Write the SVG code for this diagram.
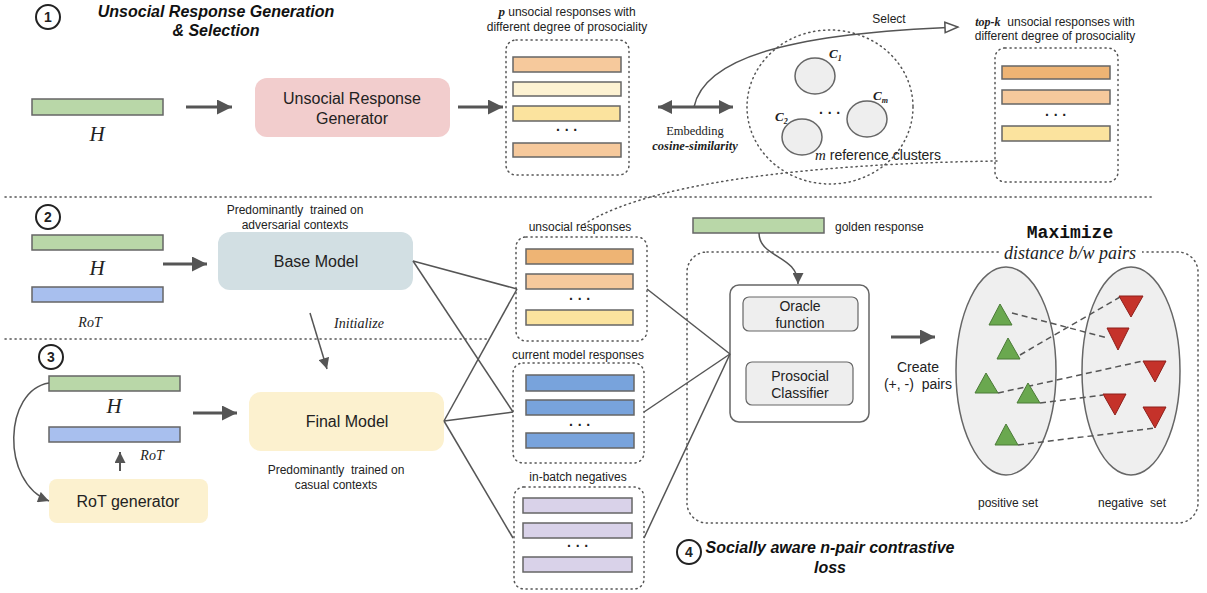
<svg xmlns="http://www.w3.org/2000/svg" width="1207" height="593" viewBox="0 0 1207 593">
<style>
.sans{font-family:"Liberation Sans",Arial,sans-serif;fill:#222}
.serif{font-family:"Liberation Serif","Times New Roman",serif;fill:#222}
.ti{font-family:"Liberation Sans",Arial,sans-serif;font-weight:bold;font-style:italic;font-size:16px;fill:#111}
.pre{white-space:pre}
.bar{stroke:#666;stroke-width:1.5}
.dot{fill:none;stroke:#555;stroke-width:1.5;stroke-dasharray:1.2 3.8;stroke-linecap:round}
.ln{fill:none;stroke:#555;stroke-width:1.5}
.thick{fill:none;stroke:#555;stroke-width:3}
.num{fill:none;stroke:#222;stroke-width:2}
.dash{fill:none;stroke:#555;stroke-width:1.5;stroke-dasharray:6 4}
.gt{fill:#6aa84f;stroke:#4b7a37;stroke-width:1}
.rt{fill:#c5322a;stroke:#8e1f1a;stroke-width:1}
</style>
<defs>
<marker id="big" viewBox="0 0 10 10" refX="10" refY="5" markerUnits="userSpaceOnUse" markerWidth="20" markerHeight="15" orient="auto"><path d="M0,0 L10,5 L0,10 z" fill="#555"/></marker>
<marker id="bigs" viewBox="0 0 10 10" refX="10" refY="5" markerUnits="userSpaceOnUse" markerWidth="18" markerHeight="14" orient="auto-start-reverse"><path d="M0,0 L10,5 L0,10 z" fill="#555"/></marker>
<marker id="sm" viewBox="0 0 10 10" refX="10" refY="5" markerUnits="userSpaceOnUse" markerWidth="12" markerHeight="11" orient="auto"><path d="M0,0 L10,5 L0,10 z" fill="#555"/></marker>
<marker id="open" viewBox="0 0 12 10" refX="11" refY="5" markerUnits="userSpaceOnUse" markerWidth="16" markerHeight="13" orient="auto"><path d="M1,1 L11,5 L1,9 z" fill="#fff" stroke="#555" stroke-width="1.2"/></marker>
</defs>

<!-- separators -->
<g id="separators">
<line class="dot" x1="5" y1="197" x2="1152" y2="197"/>
<line class="dot" x1="5" y1="339" x2="490" y2="339"/>
</g>

<!-- Section 1 -->
<g id="step1-title">
<circle class="num" cx="48" cy="17" r="12"/>
<text x="48" y="22" text-anchor="middle" class="sans" font-size="14" font-weight="bold">1</text>
<text x="216" y="17" text-anchor="middle" class="ti">Unsocial Response Generation</text>
<text x="216" y="36" text-anchor="middle" class="ti">&amp; Selection</text>
</g>
<g id="h1">
<rect class="bar" x="32" y="99" width="131" height="16" fill="#b9d7a8"/>
<text x="97" y="141" text-anchor="middle" class="serif" font-size="21" font-style="italic">H</text>
</g>
<g id="generator">
<rect x="255" y="78" width="195" height="59" rx="12" fill="#f2cdcd"/>
<text x="352" y="104" text-anchor="middle" class="sans" font-size="16">Unsocial Response</text>
<text x="352" y="124" text-anchor="middle" class="sans" font-size="16">Generator</text>
</g>
<g id="p-responses">
<text x="567" y="16" text-anchor="middle" class="sans" font-size="12"><tspan class="serif" font-weight="bold" font-style="italic" font-size="13">p</tspan> unsocial responses with</text>
<text x="567" y="31" text-anchor="middle" class="sans" font-size="12">different degree of prosociality</text>
<rect class="dot" x="506" y="40" width="123" height="135" rx="10"/>
<rect class="bar" x="513" y="57" width="108" height="15" fill="#f6c99c"/>
<rect class="bar" x="513" y="82" width="108" height="14" fill="#fdf2d2"/>
<rect class="bar" x="513" y="106" width="107" height="15" fill="#fbe39e"/>
<text x="567" y="135" text-anchor="middle" class="sans" font-size="14" font-weight="bold">· · ·</text>
<rect class="bar" x="513" y="143" width="108" height="14" fill="#f6c99c"/>
</g>
<g id="clusters">
<ellipse class="dot" cx="830" cy="107" rx="83" ry="77"/>
<ellipse cx="815" cy="76" rx="20" ry="18" fill="#eeeeee" stroke="#666" stroke-width="1.5"/>
<ellipse cx="867" cy="119" rx="20" ry="18" fill="#eeeeee" stroke="#666" stroke-width="1.5"/>
<ellipse cx="802" cy="137" rx="20" ry="18" fill="#eeeeee" stroke="#666" stroke-width="1.5"/>
<text x="830" y="118" text-anchor="middle" class="sans" font-size="14" font-weight="bold">· · ·</text>
<text x="829" y="58" class="serif" font-size="13" font-weight="bold" font-style="italic">C<tspan font-size="8" dy="3">1</tspan></text>
<text x="873" y="100" class="serif" font-size="13" font-weight="bold" font-style="italic">C<tspan font-size="8" dy="3">m</tspan></text>
<text x="775" y="121" class="serif" font-size="13" font-weight="bold" font-style="italic">C<tspan font-size="8" dy="3">2</tspan></text>
<text x="815" y="160" class="sans" font-size="14"><tspan class="serif" font-style="italic" font-size="15">m</tspan> reference clusters</text>
</g>
<g id="embedding-label">
<text x="695" y="135" text-anchor="middle" class="serif" font-size="12.5">Embedding</text>
<text x="695" y="150" text-anchor="middle" class="serif" font-size="12.5" font-weight="bold" font-style="italic">cosine-similarity</text>
<text x="889" y="23" text-anchor="middle" class="sans" font-size="12">Select</text>
</g>
<g id="topk-responses">
<text x="1055" y="26" text-anchor="middle" class="sans pre" font-size="12"><tspan class="serif" font-weight="bold" font-style="italic">top-k</tspan>  unsocial responses with</text>
<text x="1055" y="40" text-anchor="middle" class="sans" font-size="12">different degree of prosociality</text>
<rect class="dot" x="995" y="48" width="123" height="134" rx="10"/>
<rect class="bar" x="1002" y="66" width="108" height="13" fill="#eeb474"/>
<rect class="bar" x="1002" y="90" width="108" height="14" fill="#f6c99c"/>
<text x="1056" y="120" text-anchor="middle" class="sans" font-size="14" font-weight="bold">· · ·</text>
<rect class="bar" x="1002" y="126" width="108" height="15" fill="#fbe39e"/>
</g>

<!-- Section 2 -->
<g id="step2">
<circle class="num" cx="48" cy="217" r="12"/>
<text x="48" y="222" text-anchor="middle" class="sans" font-size="14" font-weight="bold">2</text>
<rect class="bar" x="32" y="235" width="131" height="15" fill="#b9d7a8"/>
<text x="97" y="275" text-anchor="middle" class="serif" font-size="21" font-style="italic">H</text>
<rect class="bar" x="32" y="287" width="131" height="15" fill="#a8bfee"/>
<text x="90" y="327" text-anchor="middle" class="serif" font-size="14" font-style="italic">RoT</text>
</g>
<g id="base-model">
<text x="295" y="214" text-anchor="middle" class="sans pre" font-size="12">Predominantly  trained on</text>
<text x="295" y="229" text-anchor="middle" class="sans" font-size="12">adversarial contexts</text>
<rect x="218" y="232" width="195" height="58" rx="12" fill="#d2dfe3"/>
<text x="316" y="267" text-anchor="middle" class="sans" font-size="16">Base Model</text>
</g>
<text x="359" y="328" text-anchor="middle" class="serif" font-size="14" font-style="italic">Initialize</text>

<!-- Section 3 -->
<g id="step3">
<circle class="num" cx="51" cy="357" r="12"/>
<text x="51" y="362" text-anchor="middle" class="sans" font-size="14" font-weight="bold">3</text>
<rect class="bar" x="49" y="376" width="131" height="15" fill="#b9d7a8"/>
<text x="114" y="413" text-anchor="middle" class="serif" font-size="21" font-style="italic">H</text>
<rect class="bar" x="49" y="427" width="131" height="15" fill="#a8bfee"/>
<text x="152" y="460" text-anchor="middle" class="serif" font-size="14" font-style="italic">RoT</text>
</g>
<g id="rot-generator">
<rect x="49" y="479" width="159" height="44" rx="8" fill="#fcf1cf"/>
<text x="128" y="507" text-anchor="middle" class="sans" font-size="16">RoT generator</text>
</g>
<g id="final-model">
<rect x="249" y="392" width="195" height="59" rx="12" fill="#fcf1cf"/>
<text x="347" y="427" text-anchor="middle" class="sans" font-size="16">Final Model</text>
<text x="336" y="474" text-anchor="middle" class="sans pre" font-size="12">Predominantly  trained on</text>
<text x="336" y="489" text-anchor="middle" class="sans" font-size="12">casual contexts</text>
</g>

<!-- response sets -->
<g id="unsocial-set">
<text x="580" y="231" text-anchor="middle" class="sans" font-size="12">unsocial responses</text>
<rect class="dot" x="516" y="237" width="131" height="104" rx="10"/>
<rect class="bar" x="526" y="249" width="107" height="15" fill="#eeb474"/>
<rect class="bar" x="526" y="274" width="107" height="15" fill="#f6c99c"/>
<text x="580" y="304" text-anchor="middle" class="sans" font-size="14" font-weight="bold">· · ·</text>
<rect class="bar" x="526" y="310" width="107" height="15" fill="#fbe39e"/>
</g>
<g id="current-set">
<text x="578" y="359" text-anchor="middle" class="sans" font-size="12">current model responses</text>
<rect class="dot" x="513" y="363" width="131" height="100" rx="10"/>
<rect class="bar" x="526" y="375" width="108" height="16" fill="#78a3dc"/>
<rect class="bar" x="526" y="400" width="108" height="15" fill="#78a3dc"/>
<text x="580" y="430" text-anchor="middle" class="sans" font-size="14" font-weight="bold">· · ·</text>
<rect class="bar" x="526" y="433" width="108" height="15" fill="#78a3dc"/>
</g>
<g id="inbatch-set">
<text x="578" y="481" text-anchor="middle" class="sans" font-size="12">in-batch negatives</text>
<rect class="dot" x="514" y="487" width="130" height="102" rx="10"/>
<rect class="bar" x="523" y="498" width="109" height="15" fill="#d9d2e9"/>
<rect class="bar" x="523" y="523" width="109" height="15" fill="#d9d2e9"/>
<text x="578" y="551" text-anchor="middle" class="sans" font-size="14" font-weight="bold">· · ·</text>
<rect class="bar" x="523" y="557" width="109" height="15" fill="#d9d2e9"/>
</g>

<!-- Section 4 -->
<g id="golden">
<rect class="bar" x="693" y="218" width="131" height="15" fill="#b9d7a8"/>
<text x="835" y="231" class="sans" font-size="12">golden response</text>
</g>
<g id="loss-box">
<rect class="dot" x="687" y="252" width="511" height="271" rx="20"/>
<rect x="1000" y="244" width="142" height="20" fill="#fff"/>
<text x="1070" y="238" text-anchor="middle" font-family="'Liberation Mono','Courier New',monospace" font-weight="bold" font-size="18" fill="#111">Maximize</text>
<text x="1070" y="259" text-anchor="middle" class="serif" font-size="18" font-style="italic">distance b/w pairs</text>
</g>
<g id="oracle-group">
<rect x="730" y="285" width="139" height="137" rx="9" fill="#fff" stroke="#666" stroke-width="1.5"/>
<rect x="743" y="297" width="115" height="34" rx="6" fill="#eeeeee" stroke="#666" stroke-width="1.2"/>
<text x="800" y="311" text-anchor="middle" class="sans" font-size="14">Oracle</text>
<text x="800" y="328" text-anchor="middle" class="sans" font-size="14">function</text>
<rect x="746" y="362" width="107" height="43" rx="6" fill="#eeeeee" stroke="#666" stroke-width="1.2"/>
<text x="800" y="381" text-anchor="middle" class="sans" font-size="14">Prosocial</text>
<text x="800" y="398" text-anchor="middle" class="sans" font-size="14">Classifier</text>
</g>
<g id="create-label">
<text x="918" y="372" text-anchor="middle" class="sans" font-size="14">Create</text>
<text x="918" y="389" text-anchor="middle" class="sans pre" font-size="14">(+, -)  pairs</text>
</g>
<g id="positive-set">
<ellipse cx="1006" cy="371" rx="50" ry="104" fill="#efefef" stroke="#666" stroke-width="1.5"/>
<text x="1008" y="507" text-anchor="middle" class="sans" font-size="12">positive set</text>
</g>
<g id="negative-set">
<ellipse cx="1131" cy="371" rx="49" ry="104" fill="#efefef" stroke="#666" stroke-width="1.5"/>
<text x="1132" y="507" text-anchor="middle" class="sans pre" font-size="12">negative  set</text>
</g>
<g id="pairs">
<line class="dash" x1="1012" y1="313" x2="1108" y2="338"/>
<line class="dash" x1="1020" y1="355" x2="1120" y2="297"/>
<line class="dash" x1="998" y1="393" x2="1143" y2="361"/>
<line class="dash" x1="1040" y1="403" x2="1103" y2="395"/>
<line class="dash" x1="1018" y1="445" x2="1155" y2="428"/>
<polygon class="gt" points="1000,304 1012,325 989,325"/>
<polygon class="gt" points="1008,338 1020,359 997,359"/>
<polygon class="gt" points="986,373 998,393 975,393"/>
<polygon class="gt" points="1028,383 1040,403 1017,403"/>
<polygon class="gt" points="1006,424 1018,445 995,445"/>
<polygon class="rt" points="1119,296 1143,296 1131,317"/>
<polygon class="rt" points="1107,328 1129,328 1118,350"/>
<polygon class="rt" points="1143,361 1166,361 1155,382"/>
<polygon class="rt" points="1103,394 1126,394 1115,415"/>
<polygon class="rt" points="1143,407 1166,407 1155,428"/>
</g>
<g id="step4-title">
<circle class="num" cx="689" cy="552" r="12"/>
<text x="689" y="557" text-anchor="middle" class="sans" font-size="14" font-weight="bold">4</text>
<text x="830" y="553" text-anchor="middle" class="ti">Socially aware n-pair contrastive</text>
<text x="830" y="573" text-anchor="middle" class="ti">loss</text>
</g>

<!-- connectors -->
<g id="connectors">
<line class="thick" x1="186" y1="107" x2="232" y2="107" marker-end="url(#big)"/>
<line class="thick" x1="458" y1="107" x2="503" y2="107" marker-end="url(#big)"/>
<line class="thick" x1="658" y1="107" x2="733" y2="107" marker-start="url(#bigs)" marker-end="url(#bigs)"/>
<path class="ln" d="M694,107 C705,55 800,33 958,27" marker-end="url(#open)"/>
<path class="dot" d="M997,161 C860,163 660,175 583,225"/>
<line class="thick" x1="163" y1="264" x2="207" y2="264" marker-end="url(#big)"/>
<line class="thick" x1="193" y1="413" x2="237" y2="413" marker-end="url(#big)"/>
<line x1="120" y1="471" x2="120" y2="452" stroke="#555" stroke-width="2" marker-end="url(#sm)"/>
<path class="ln" d="M49,383 C4,390 0,482 49,501" marker-end="url(#sm)"/>
<line class="ln" x1="310" y1="313" x2="327" y2="369" marker-end="url(#sm)"/>
<line class="ln" x1="413" y1="261" x2="517" y2="289"/>
<line class="ln" x1="413" y1="261" x2="513" y2="412"/>
<line class="ln" x1="444" y1="421" x2="517" y2="289"/>
<line class="ln" x1="444" y1="421" x2="513" y2="412"/>
<line class="ln" x1="444" y1="421" x2="513" y2="538"/>
<line class="ln" x1="647" y1="289" x2="730" y2="354"/>
<line class="ln" x1="644" y1="412" x2="730" y2="354"/>
<line class="ln" x1="644" y1="538" x2="730" y2="354"/>
<path class="ln" d="M759,233 C759,258 798,255 798,284" marker-end="url(#sm)"/>
<line class="thick" x1="891" y1="337" x2="935" y2="337" marker-end="url(#big)"/>
</g>
</svg>
